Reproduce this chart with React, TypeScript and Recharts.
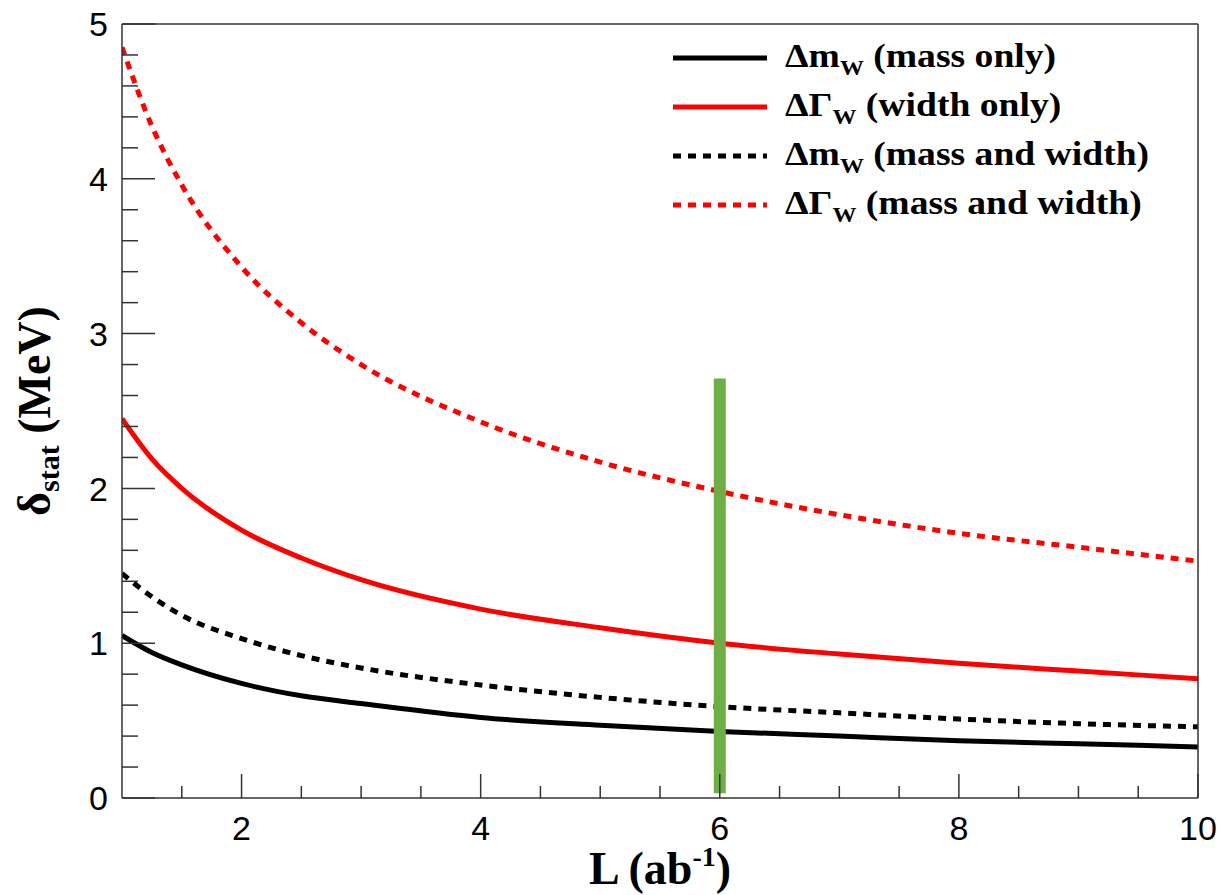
import React from 'react';
import { ComposedChart, Line, XAxis, YAxis, ReferenceLine, Legend, Label } from 'recharts';

// integrated luminosity (ab^-1)
const lumi = [1, 1.25, 1.5, 2, 2.5, 3, 4, 5, 6, 7, 8, 9, 10];
// statistical uncertainty (MeV)
const massOnly = [1.05, 0.94, 0.86, 0.74, 0.66, 0.61, 0.52, 0.47, 0.43, 0.4, 0.37, 0.35, 0.33];
const widthOnly = [2.45, 2.19, 2.0, 1.73, 1.55, 1.41, 1.22, 1.1, 1.0, 0.93, 0.87, 0.82, 0.77];
const massJoint = [1.45, 1.3, 1.18, 1.03, 0.92, 0.84, 0.73, 0.65, 0.59, 0.55, 0.51, 0.48, 0.46];
const widthJoint = [4.85, 4.34, 3.96, 3.43, 3.07, 2.8, 2.43, 2.17, 1.98, 1.83, 1.71, 1.62, 1.53];

const xTicks = [1.5, 2, 2.5, 3, 3.5, 4, 4.5, 5, 5.5, 6, 6.5, 7, 7.5, 8, 8.5, 9, 9.5, 10];
const xLabels = [2, 4, 6, 8, 10];
const yTicks = [0, 0.2, 0.4, 0.6, 0.8, 1, 1.2, 1.4, 1.6, 1.8, 2, 2.2, 2.4, 2.6, 2.8, 3, 3.2, 3.4, 3.6, 3.8, 4, 4.2, 4.4, 4.6, 4.8, 5];
const yLabels = [0, 1, 2, 3, 4, 5];

// highlighted working point
const markerL = 6;
const markerRange = [0.03, 2.71];

const data = lumi.map((L, i) => ({
  L,
  massOnly: massOnly[i],
  widthOnly: widthOnly[i],
  massJoint: massJoint[i],
  widthJoint: widthJoint[i],
}));

const AXIS = '#333';
const SANS = '"Liberation Sans", Arial, sans-serif';
const SERIF = '"Liberation Serif", "Times New Roman", serif';
const DOTS = '8 7';

const XTick = (props: any) => {
  const { x, y, payload } = props;
  const major = xLabels.includes(payload.value);
  return (
    <g>
      <line x1={x} x2={x} y1={y} y2={y - (major ? 24 : 12)} stroke={AXIS} strokeWidth={1.5} />
      {major && (
        <text x={x} y={y + 42} textAnchor="middle" fontFamily={SANS} fontSize={34} fill="#000">
          {payload.value}
        </text>
      )}
    </g>
  );
};

const YTick = (props: any) => {
  const { x, y, payload } = props;
  const major = yLabels.includes(payload.value);
  return (
    <g>
      <line x1={x} x2={x + (major ? 33 : 16)} y1={y} y2={y} stroke={AXIS} strokeWidth={1.5} />
      {major && (
        <text x={x - 14} y={y} dy="0.36em" textAnchor="end" fontFamily={SANS} fontSize={34} fill="#000">
          {payload.value}
        </text>
      )}
    </g>
  );
};

const legendRows = [
  { color: '#000', dash: undefined, sym: 'Δm', text: ' (mass only)' },
  { color: '#ff0000', dash: undefined, sym: 'ΔΓ', text: ' (width only)' },
  { color: '#000', dash: DOTS, sym: 'Δm', text: ' (mass and width)' },
  { color: '#ff0000', dash: DOTS, sym: 'ΔΓ', text: ' (mass and width)' },
];

const LegendBox = () => (
  <svg width={520} height={200}>
    {legendRows.map((r, i) => {
      const y = 28 + i * 49;
      return (
        <g key={i}>
          <line x1={13} x2={107} y1={y} y2={y} stroke={r.color} strokeWidth={5} strokeDasharray={r.dash} />
          <text
            transform={`translate(125, ${y + 9}) scale(1.14, 1)`}
            fontFamily={SERIF}
            fontWeight="bold"
            fontSize={33}
            fill="#000"
          >
            {r.sym}
            <tspan fontSize={21} dy={8}>W</tspan>
            <tspan dy={-8}>{r.text}</tspan>
          </text>
        </g>
      );
    })}
  </svg>
);

const YTitle = (props: any) => {
  const { viewBox } = props;
  const cy = viewBox.y + viewBox.height / 2;
  return (
    <text
      transform={`translate(50, ${cy}) rotate(-90)`}
      textAnchor="middle"
      fontFamily={SERIF}
      fontWeight="bold"
      fontSize={46}
      fill="#000"
    >
      δ
      <tspan fontSize={30} dy={9}>stat</tspan>
      <tspan dy={-9}> (MeV)</tspan>
    </text>
  );
};

const XTitle = (props: any) => {
  const { viewBox } = props;
  const cx = viewBox.x + viewBox.width / 2;
  return (
    <text x={cx} y={884} textAnchor="middle" fontFamily={SERIF} fontWeight="bold" fontSize={46} fill="#000">
      L (ab
      <tspan fontSize={28} dy={-18}>-1</tspan>
      <tspan dy={18}>)</tspan>
    </text>
  );
};

export default function App() {
  return (
    <div style={{ position: 'absolute', left: 0, top: 0, background: '#fff' }}>
      <ComposedChart width={1221} height={895} data={data} margin={{ top: 23, right: 22, bottom: 96, left: 121 }}>
        <XAxis
          dataKey="L"
          type="number"
          domain={[1, 10]}
          ticks={xTicks}
          interval={0}
          height={1}
          tickSize={0}
          tickMargin={0}
          tick={<XTick />}
          axisLine={{ stroke: AXIS, strokeWidth: 1.5 }}
          allowDataOverflow
        >
          <Label content={<XTitle />} />
        </XAxis>
        <XAxis xAxisId="top" orientation="top" type="number" domain={[1, 10]} height={1} tick={false} axisLine={{ stroke: AXIS, strokeWidth: 1.5 }} />
        <YAxis
          type="number"
          domain={[0, 5]}
          ticks={yTicks}
          interval={0}
          width={1}
          tickSize={0}
          tickMargin={0}
          tick={<YTick />}
          axisLine={{ stroke: AXIS, strokeWidth: 1.5 }}
          allowDataOverflow
        >
          <Label content={<YTitle />} />
        </YAxis>
        <YAxis yAxisId="right" orientation="right" type="number" domain={[0, 5]} width={1} tick={false} axisLine={{ stroke: AXIS, strokeWidth: 1.5 }} />
        <Line dataKey="massOnly" type="monotone" stroke="#000" strokeWidth={5} dot={false} isAnimationActive={false} />
        <Line dataKey="widthOnly" type="monotone" stroke="#ff0000" strokeWidth={5} dot={false} isAnimationActive={false} />
        <Line dataKey="massJoint" type="monotone" stroke="#000" strokeWidth={5} strokeDasharray={DOTS} dot={false} isAnimationActive={false} />
        <Line dataKey="widthJoint" type="monotone" stroke="#ff0000" strokeWidth={5} strokeDasharray={DOTS} dot={false} isAnimationActive={false} />
        <ReferenceLine
          segment={[{ x: markerL, y: markerRange[0] }, { x: markerL, y: markerRange[1] }]}
          stroke="#70ad47"
          strokeWidth={12}
        />
        <Legend
          layout="vertical"
          align="center"
          verticalAlign="middle"
          wrapperStyle={{ left: 660, top: 30, width: 520 }}
          content={<LegendBox />}
        />
      </ComposedChart>
    </div>
  );
}
